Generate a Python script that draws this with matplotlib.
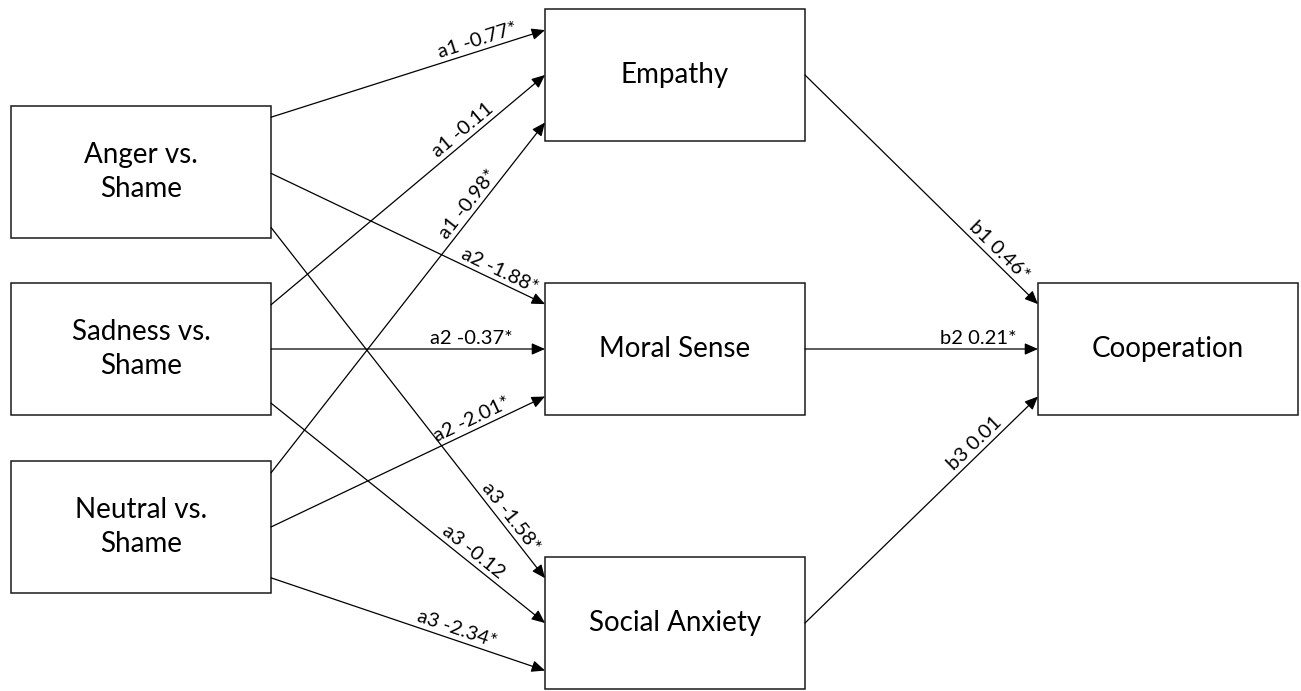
import numpy as np
import matplotlib.pyplot as plt
from matplotlib.patches import Rectangle

# node names
predictors = ["Anger vs.\nShame", "Sadness vs.\nShame", "Neutral vs.\nShame"]
mediators = ["Empathy", "Moral Sense", "Social Anxiety"]
outcome = "Cooperation"

# a paths: one row per mediator (a1..a3), one column per predictor
a_names = ["a1", "a2", "a3"]
a_values = [[-0.77, -0.11, -0.98],
            [-1.88, -0.37, -2.01],
            [-1.58, -0.12, -2.34]]
a_sig = [[True, False, True],
         [True, True, True],
         [True, False, True]]

# b paths: mediator -> outcome
b_names = ["b1", "b2", "b3"]
b_values = [0.46, 0.21, 0.01]
b_sig = [True, True, False]

# layout (pixel units, y down)
W, H = 1301, 691
box_w, box_h = 260, 132
pred_x, med_x, out_x = 11, 545, 1038
pred_top = [106, 283, 461]
med_top = [9, 283, 557]
out_top = 283
# where each predictor's three arrows leave its right edge
src_frac = [[0.085, 0.51, 0.92],
            [0.165, 0.5, 0.91],
            [0.09, 0.5, 0.885]]
dst_frac = [0.16, 0.5, 0.86]
a_label_t = [[0.765, 0.725, 0.75],
             [0.82, 0.73, 0.75],
             [0.845, 0.715, 0.665]]
b_label_t = [0.8, 0.745, 0.76]

FONT = "Lato"
plt.rcParams['font.family'] = [FONT, 'DejaVu Sans']

fig = plt.figure(figsize=(W / 100, H / 100), dpi=100)
ax = fig.add_axes([0, 0, 1, 1])
ax.set_xlim(0, W)
ax.set_ylim(H, 0)
ax.axis('off')


def draw_box(x, top, text):
    ax.add_patch(Rectangle((x, top), box_w, box_h, fill=False,
                           edgecolor='#1a1a1a', linewidth=1.1))
    ax.text(x + box_w / 2, top + box_h / 2, text, ha='center', va='center',
            fontsize=20, linespacing=1.35, color='black')


def draw_path(x1, y1, x2, y2, label, t):
    ax.annotate("", xy=(x2, y2), xytext=(x1, y1),
                arrowprops=dict(arrowstyle='-|>,head_length=0.5,head_width=0.22',
                                mutation_scale=16, lw=0.9, color='black',
                                shrinkA=0, shrinkB=0))
    dx, dy = x2 - x1, -(y2 - y1)
    ang = np.degrees(np.arctan2(dy, dx))
    n = np.array([-dy, dx]) / np.hypot(dx, dy)
    gap = 2.0
    px = x1 + t * (x2 - x1) + gap * n[0]
    py = y1 + t * (y2 - y1) - gap * n[1]
    ax.text(px, py, label, rotation=ang, rotation_mode='anchor',
            ha='center', va='bottom', fontsize=14.5, color='black')


for i, name in enumerate(predictors):
    draw_box(pred_x, pred_top[i], name)
for m, name in enumerate(mediators):
    draw_box(med_x, med_top[m], name)
draw_box(out_x, out_top, outcome)

# a paths
for m in range(3):
    for i in range(3):
        x1 = pred_x + box_w
        y1 = pred_top[i] + src_frac[i][m] * box_h
        x2 = med_x
        y2 = med_top[m] + dst_frac[i] * box_h
        lab = f"{a_names[m]} {a_values[m][i]:.2f}" + ("*" if a_sig[m][i] else "")
        draw_path(x1, y1, x2, y2, lab, a_label_t[m][i])

# b paths
for m in range(3):
    x1 = med_x + box_w
    y1 = med_top[m] + box_h / 2
    x2 = out_x
    y2 = out_top + dst_frac[m] * box_h
    lab = f"{b_names[m]} {b_values[m]:.2f}" + ("*" if b_sig[m] else "")
    draw_path(x1, y1, x2, y2, lab, b_label_t[m])

fig.savefig("out.png", dpi=100, facecolor='white')
